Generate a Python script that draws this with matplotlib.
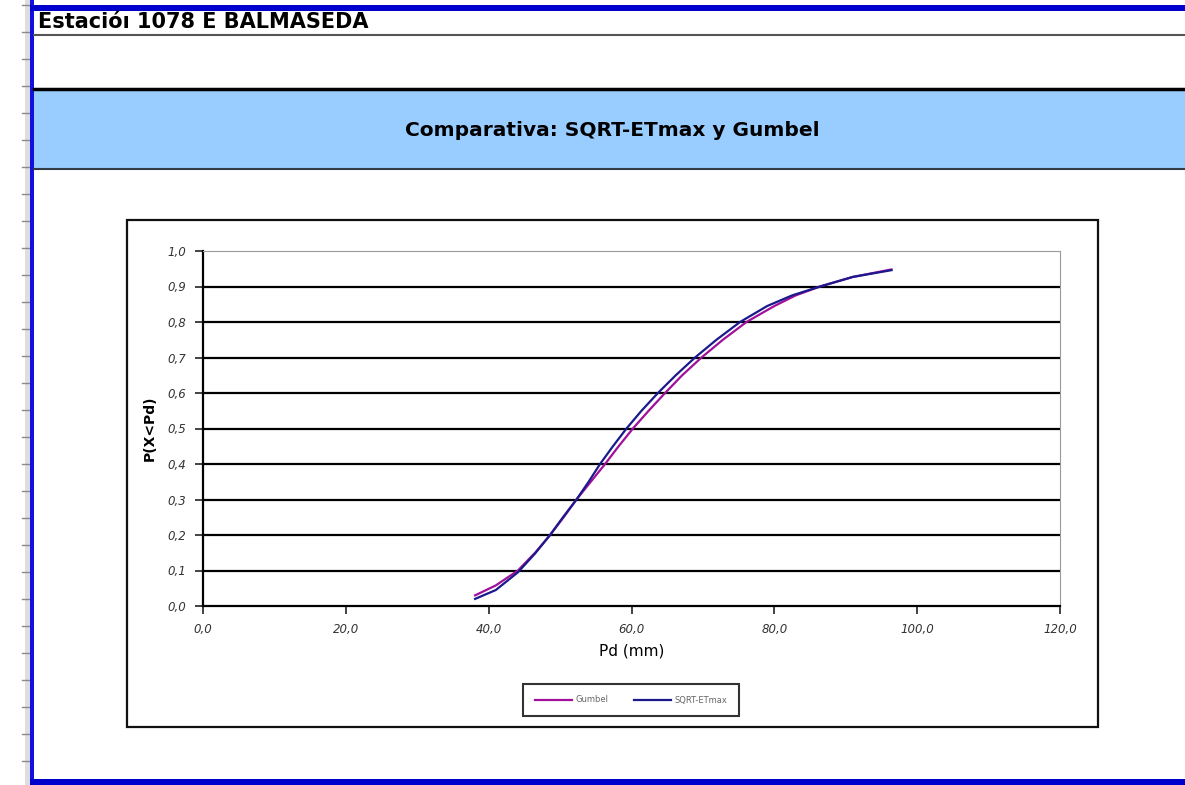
import matplotlib
matplotlib.use("Agg")
import matplotlib.pyplot as plt
from matplotlib.patches import Rectangle
from matplotlib.lines import Line2D
from matplotlib.ticker import FuncFormatter

# values
gumbel_x = [38.1, 41.0, 44.1, 46.5, 48.6, 50.5, 52.3, 54.3, 56.3, 58.2, 60.2, 62.4, 64.7,
            67.1, 69.8, 72.8, 76.1, 80.0, 83.0, 86.4, 91.0, 96.4]
gumbel_y = [0.030, 0.058, 0.100, 0.150, 0.200, 0.250, 0.300, 0.350, 0.400, 0.450, 0.500, 0.550,
            0.600, 0.650, 0.700, 0.750, 0.800, 0.845, 0.875, 0.900, 0.927, 0.948]
sqrt_x = [38.1, 41.0, 44.1, 46.5, 48.6, 50.4, 52.3, 54.0, 55.6, 57.4, 59.3, 61.4, 63.7,
          66.2, 68.9, 71.9, 75.2, 79.0, 82.5, 86.4, 91.0, 96.4]
sqrt_y = [0.020, 0.045, 0.095, 0.148, 0.200, 0.250, 0.300, 0.350, 0.400, 0.450, 0.500, 0.550,
          0.600, 0.650, 0.700, 0.750, 0.800, 0.845, 0.875, 0.900, 0.927, 0.946]
x_ticks = [0, 20, 40, 60, 80, 100, 120]
y_ticks = [0.0, 0.1, 0.2, 0.3, 0.4, 0.5, 0.6, 0.7, 0.8, 0.9, 1.0]

W, H = 1185, 785
fig = plt.figure(figsize=(W / 100, H / 100), dpi=100)


def fx(x):
    return x / W


def fy(y):
    return 1 - y / H


def rect(x0, y0, x1, y1, **kw):
    fig.add_artist(Rectangle((fx(x0), fy(y1)), fx(x1) - fx(x0), fy(y0) - fy(y1),
                             transform=fig.transFigure, **kw))


def line(x0, y0, x1, y1, **kw):
    fig.add_artist(Line2D([fx(x0), fx(x1)], [fy(y0), fy(y1)], transform=fig.transFigure, **kw))


# spreadsheet frame
rect(25, 0, 30, H, facecolor="#dedede", edgecolor="none", zorder=-2)
for r in range(5, H, 27):
    line(22, r, 30, r, color="#8a8a8a", lw=1, zorder=-2)
rect(30, 0, 34, H, facecolor="#1010e0", edgecolor="none", zorder=-2)
rect(30, 5, W, 11, facecolor="#0000cc", edgecolor="none", zorder=-2)
rect(30, 779, W, H, facecolor="#0000cc", edgecolor="none", zorder=-2)
line(34, 34.5, W, 34.5, color="#555555", lw=1.5, zorder=-2)
rect(34, 88, W, 169, facecolor="#99ccff", edgecolor="none", zorder=-2)
line(34, 89, W, 89, color="black", lw=2.5, zorder=-2)
line(34, 169, W, 169, color="#333b44", lw=1.5, zorder=-2)

fig.text(fx(38), fy(22), "Estacióı 1078 E BALMASEDA", fontsize=15, fontweight="bold",
         va="center", ha="left")
fig.text(fx(612), fy(131), "Comparativa: SQRT-ETmax y Gumbel", fontsize=14.5,
         fontweight="bold", va="center", ha="center")

# chart box
rect(127, 220, 1098, 727, facecolor="white", edgecolor="#111111", lw=1.6, zorder=-1)

ax = fig.add_axes([fx(203), fy(606), fx(1060) - fx(203), fy(251) - fy(606)])
ax.set_zorder(2)
ax.set_facecolor("white")
ax.set_xlim(0, 120)
ax.set_ylim(0, 1.0)
ax.set_xticks(x_ticks)
ax.set_yticks(y_ticks)
for yv in y_ticks[1:-1]:
    ax.axhline(yv, color="black", lw=1.6, zorder=1)
ax.spines["top"].set_color("#9a9a9a")
ax.spines["right"].set_color("#9a9a9a")
ax.spines["left"].set_color("black")
ax.spines["bottom"].set_color("black")
ax.spines["left"].set_linewidth(1.6)
ax.spines["bottom"].set_linewidth(1.6)
ax.tick_params(direction="out", length=6, width=1.2, colors="#222222", labelsize=8.5, pad=6)
ax.xaxis.set_major_formatter(FuncFormatter(lambda v, p: f"{v:.1f}".replace(".", ",")))
ax.yaxis.set_major_formatter(FuncFormatter(lambda v, p: f"{v:.1f}".replace(".", ",")))
for lab in ax.get_xticklabels() + ax.get_yticklabels():
    lab.set_fontstyle("italic")
    lab.set_color("#333333")

ax.plot(gumbel_x, gumbel_y, color="#a0109a", lw=1.6, label="Gumbel", zorder=3,
        solid_joinstyle="round")
ax.plot(sqrt_x, sqrt_y, color="#1a1a8c", lw=1.6, label="SQRT-ETmax", zorder=4,
        solid_joinstyle="round")

ax.set_xlabel("Pd (mm)", fontsize=11, labelpad=6)
ax.set_ylabel("P(X<Pd)", fontsize=10, fontweight="bold", labelpad=8)

leg = ax.legend(loc="center", bbox_to_anchor=(fx(631), fy(700)), bbox_transform=fig.transFigure,
                ncol=2, fontsize=6, frameon=True, fancybox=False, edgecolor="black",
                handlelength=4.5, handletextpad=0.4, columnspacing=3.0, borderpad=1.4)
leg.get_frame().set_linewidth(1.5)
for t in leg.get_texts():
    t.set_color("#666666")

fig.savefig("out.png", dpi=100)
